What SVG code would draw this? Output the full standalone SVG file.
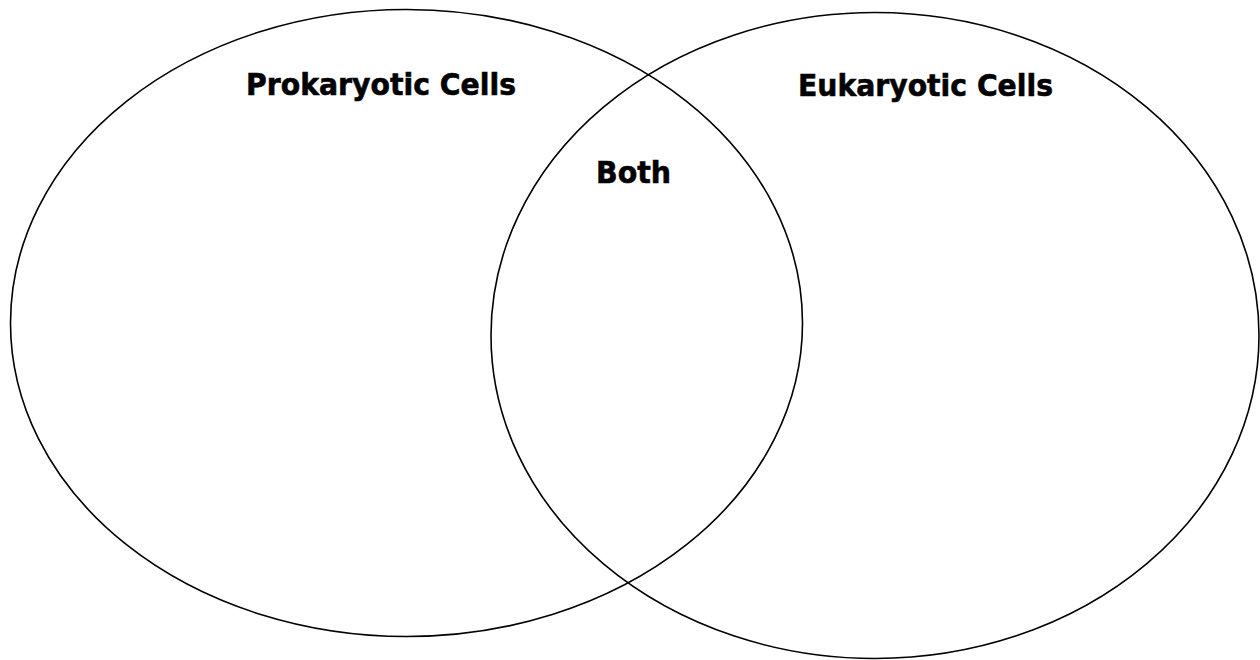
<svg xmlns="http://www.w3.org/2000/svg" width="1260" height="660" viewBox="0 0 1260 660">
<style>
.set{fill:none;stroke:#000;stroke-width:1.6}
.lbl{font-family:"DejaVu Sans","Verdana",sans-serif;font-weight:bold;font-size:30px;fill:#000;stroke:#000;stroke-width:0.6}
</style>
<rect width="1260" height="660" fill="#fff"/>
<g id="prokaryotic">
<ellipse class="set" cx="406.5" cy="323" rx="396" ry="313.5"/>
</g>
<g id="eukaryotic">
<ellipse class="set" cx="875" cy="335.5" rx="384" ry="323"/>
</g>
<g id="labels">
<text class="lbl" x="246" y="95" textLength="270" lengthAdjust="spacingAndGlyphs">Prokaryotic Cells</text>
<text class="lbl" x="798" y="95.5" textLength="255" lengthAdjust="spacingAndGlyphs">Eukaryotic Cells</text>
<text class="lbl" x="596" y="183" textLength="75" lengthAdjust="spacingAndGlyphs">Both</text>
</g>
</svg>
